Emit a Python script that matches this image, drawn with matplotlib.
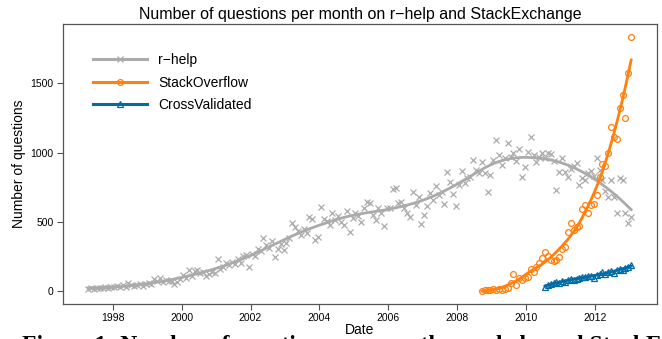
import numpy as np
import pandas as pd
import matplotlib
matplotlib.use('Agg')
import matplotlib.pyplot as plt

plt.rcParams['font.family'] = ['Liberation Sans', 'DejaVu Sans']

# monthly question counts
rhelp_start = '1997-04'
rhelp_counts = [
    15, 20, 18, 25, 22, 20, 28, 24, 30,                              # 1997 (Apr-Dec)
    26, 35, 30, 40, 32, 55, 45, 38, 42, 50, 36, 48,                  # 1998
    60, 52, 85, 70, 95, 65, 80, 75, 72, 50, 68, 88,                  # 1999
    116, 95, 152, 110, 145, 155, 130, 140, 105, 120, 135, 128,       # 2000
    229, 160, 175, 200, 190, 210, 195, 230, 205, 250, 260, 176,      # 2001
    270, 250, 300, 290, 381, 330, 310, 360, 243, 300, 340, 296,      # 2002
    350, 380, 489, 460, 430, 405, 450, 420, 537, 520, 368, 392,      # 2003
    609, 520, 505, 480, 560, 515, 540, 501, 477, 580, 426, 530,      # 2004
    560, 540, 500, 600, 645, 638, 550, 513, 600, 560, 470, 597,      # 2005
    600, 739, 744, 634, 640, 597, 560, 537, 717, 620, 677, 482,      # 2006
    549, 614, 710, 657, 759, 690, 717, 628, 862, 790, 700, 614,      # 2007
    766, 867, 782, 814, 820, 946, 874, 850, 934, 850, 718, 838,      # 2008
    946, 1091, 983, 910, 960, 1072, 970, 995, 940, 1024, 826, 898,   # 2009
    1006, 1110, 983, 934, 970, 1000, 960, 995, 990, 940, 730, 862,   # 2010
    959, 862, 826, 880, 900, 922, 766, 814, 800, 850, 870, 830,      # 2011
    959, 874, 802, 720, 677, 802, 682, 561, 814, 802, 561, 494,      # 2012
    537,                                                             # 2013
]

so_start = '2008-09'
so_counts = [
    3, 6, 9, 7,
    12, 9, 14, 10, 16, 20, 55, 123, 45, 91, 80, 94,
    103, 157, 140, 171, 205, 236, 284, 250, 226, 219, 224, 248,
    300, 320, 426, 489, 441, 460, 470, 590, 621, 560, 621, 628,
    694, 821, 918, 903, 999, 1183, 1115, 1098, 1324, 1416, 1252, 1573,
    1837,
]

cv_start = '2010-07'
cv_counts = [
    30, 45, 50, 55, 62, 58,
    72, 68, 80, 85, 82, 90, 95, 100, 98, 110, 105, 95,
    115, 120, 140, 125, 135, 145, 130, 150, 160, 155, 165, 170,
    185,
]

year_ticks = [1998, 2000, 2002, 2004, 2006, 2008, 2010, 2012]
count_ticks = [0, 500, 1000, 1500]

gray = '#ABABAB'
orange = '#FF800E'
blue = '#006BA4'


def months(start, n):
    d = pd.date_range(start, periods=n, freq='MS')
    return d.year.values + (d.month.values - 0.5) / 12.0


def loess(x, y, span):
    # local quadratic fit with tricube weights
    n = len(x)
    k = int(np.ceil(span * n))
    fit = []
    for x0 in x:
        d = np.abs(x - x0)
        h = np.sort(d)[k - 1]
        w = np.clip(1 - (d / h) ** 3, 0, None) ** 3
        X = np.vstack([np.ones(n), x - x0, (x - x0) ** 2]).T
        sw = np.sqrt(w)
        beta = np.linalg.lstsq(X * sw[:, None], y * sw, rcond=None)[0]
        fit.append(beta[0])
    return np.array(fit)


x_r = months(rhelp_start, len(rhelp_counts))
x_so = months(so_start, len(so_counts))
x_cv = months(cv_start, len(cv_counts))
y_r = np.array(rhelp_counts, dtype=float)
y_so = np.array(so_counts, dtype=float)
y_cv = np.array(cv_counts, dtype=float)

fig = plt.figure(figsize=(6.62, 3.39), dpi=100)
ax = fig.add_axes([0.0947, 0.1032, 0.8977, 0.8251])

series = [
    ('r\u2212help', x_r, y_r, gray, 'x', 0.4),
    ('StackOverflow', x_so, y_so, orange, 'o', 0.6),
    ('CrossValidated', x_cv, y_cv, blue, '^', 0.75),
]
handles = []
for name, xs, ys, col, mk, span in series:
    ax.plot(xs, ys, linestyle='none', marker=mk, markersize=4.2,
            markerfacecolor='none', markeredgecolor=col, markeredgewidth=0.9)
    ax.plot(xs, loess(xs, ys, span), color=col, lw=2.0)
    h, = ax.plot([], [], color=col, lw=2.2, marker=mk, markersize=4.2,
                 markerfacecolor='none', markeredgecolor=col, markeredgewidth=0.9)
    handles.append((h, name))

ax.set_xlim(1996.55, 2013.79)
ax.set_ylim(-94, 1926)
ax.set_xticks(year_ticks)
ax.set_xticklabels([str(t) for t in year_ticks])
ax.set_yticks(count_ticks)
ax.set_yticklabels([str(t) for t in count_ticks])
ax.tick_params(direction='out', length=4, width=0.8, color='#555555',
               labelsize=7.5, pad=2.5)
for s in ax.spines.values():
    s.set_color('#555555')
    s.set_linewidth(0.9)

ax.set_title('Number of questions per month on r\u2212help and StackExchange',
             fontsize=11.5, pad=4)
ax.set_xlabel('Date', fontsize=10, labelpad=0)
ax.set_ylabel('Number of questions', fontsize=10, labelpad=3)

leg = ax.legend([h for h, _ in handles], [n for _, n in handles],
                loc='upper left', bbox_to_anchor=(0.051, 0.897), frameon=False,
                borderpad=0, borderaxespad=0, handlelength=3.9,
                handletextpad=0.8, labelspacing=0.62, fontsize=10, numpoints=1)

# caption of the page below, only its top edge shows in the crop
fig.text(0.033, 0.011, 'Figure 1: Number of questions per month on r-help and StackExchange',
         fontsize=17, fontweight='bold', family='Liberation Serif', va='top')

fig.savefig('out.png', dpi=100)
